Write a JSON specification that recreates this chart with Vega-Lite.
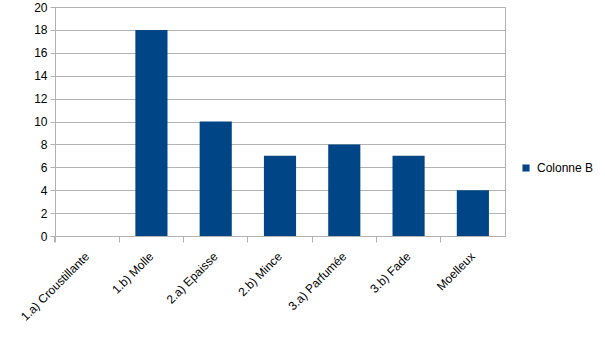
{
  "$schema": "https://vega.github.io/schema/vega-lite/v6.json",
  "width": 450,
  "height": 229,
  "autosize": "none",
  "padding": {"left": 55, "top": 7, "right": 100, "bottom": 104},
  "background": "white",
  "config": {
    "font": "Liberation Sans",
    "view": {"stroke": "#b3b3b3", "strokeWidth": 1}
  },
  "data": {
    "values": [
      {"cat": "1.a) Croustillante", "val": 0, "series": "Colonne B"},
      {"cat": "1.b) Molle", "val": 18, "series": "Colonne B"},
      {"cat": "2.a) Epaisse", "val": 10, "series": "Colonne B"},
      {"cat": "2.b) Mince", "val": 7, "series": "Colonne B"},
      {"cat": "3.a) Parfumée", "val": 8, "series": "Colonne B"},
      {"cat": "3.b) Fade", "val": 7, "series": "Colonne B"},
      {"cat": "Moelleux", "val": 4, "series": "Colonne B"}
    ]
  },
  "mark": {"type": "bar", "width": {"band": 0.5}},
  "encoding": {
    "x": {
      "field": "cat",
      "type": "nominal",
      "sort": null,
      "scale": {"paddingInner": 0, "paddingOuter": 0},
      "axis": {
        "title": null,
        "labelAngle": -45,
        "labelAlign": "right",
        "labelBaseline": "middle",
        "labelFontSize": 12,
        "labelColor": "#000000",
        "labelPadding": 12,
        "bandPosition": 0,
        "tickExtra": true,
        "tickSize": 6,
        "tickColor": "#b3b3b3",
        "domainColor": "#b3b3b3",
        "grid": false
      }
    },
    "y": {
      "field": "val",
      "type": "quantitative",
      "scale": {"domain": [0, 20], "nice": false},
      "axis": {
        "title": null,
        "values": [0, 2, 4, 6, 8, 10, 12, 14, 16, 18, 20],
        "labelFontSize": 12,
        "labelColor": "#000000",
        "labelPadding": 3,
        "tickSize": 5,
        "tickColor": "#b3b3b3",
        "domainColor": "#b3b3b3",
        "gridColor": "#b3b3b3",
        "gridOpacity": 1
      }
    },
    "color": {
      "field": "series",
      "type": "nominal",
      "scale": {"range": ["#004586"]},
      "legend": {
        "title": null,
        "orient": "none",
        "legendX": 465,
        "legendY": 155,
        "symbolType": "square",
        "symbolSize": 50,
        "labelOffset": 5,
        "labelFontSize": 12,
        "labelColor": "#000000",
        "symbolStrokeWidth": 0
      }
    }
  }
}
